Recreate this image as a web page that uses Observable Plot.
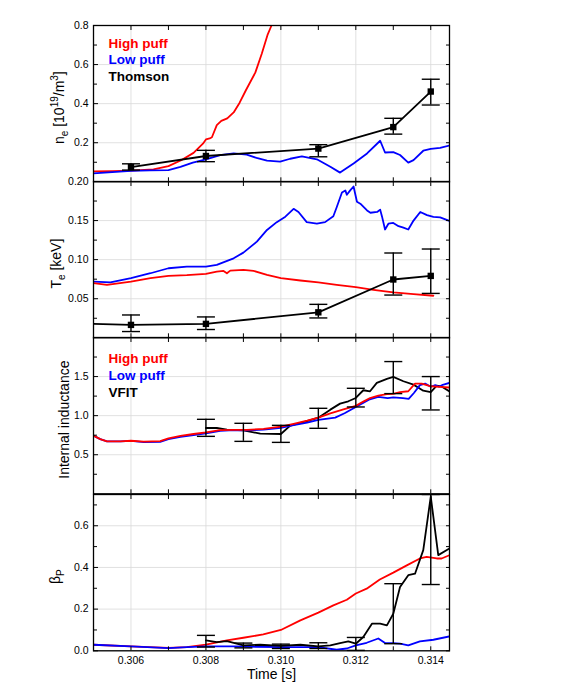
<!DOCTYPE html>
<html>
<head>
<meta charset="utf-8">
<script src="https://cdn.jsdelivr.net/npm/d3@7"></script>
<script src="https://cdn.jsdelivr.net/npm/@observablehq/plot@0.6"></script>
<style>
  html, body { margin: 0; padding: 0; background: white; }
  #chart { position: relative; width: 567px; height: 687px; overflow: hidden; }
  #chart svg { position: absolute; left: 0; }
</style>
</head>
<body>
<div id="chart"></div>
<script>
// ---------- shared x axis ----------
const xDomain = [0.305, 0.3145];
const xMajor = [0.306, 0.308, 0.310, 0.312, 0.314];
const xMinor = [0.307, 0.309, 0.311, 0.313];

// ---------- panel 1: electron density ----------
const neHighT = [0.3050, 0.3055, 0.3060, 0.3066, 0.3070, 0.30734, 0.30767, 0.30792, 0.3080, 0.3081, 0.30816, 0.30829, 0.30841, 0.30857, 0.30874, 0.3089, 0.30907, 0.30932, 0.30949, 0.30965, 0.30975, 0.30990];
const neHigh  = [0.053, 0.055, 0.057, 0.064, 0.080, 0.110, 0.148, 0.195, 0.217, 0.222, 0.228, 0.290, 0.312, 0.325, 0.355, 0.405, 0.470, 0.560, 0.655, 0.755, 0.800, 0.880];
const neLowT = [0.3050, 0.3055, 0.3060, 0.3065, 0.3070, 0.30732, 0.30765, 0.3080, 0.30838, 0.30874, 0.30909, 0.30935, 0.30963, 0.30998, 0.31025, 0.31056, 0.31096, 0.31132, 0.31158, 0.31194, 0.3123, 0.31265, 0.31278, 0.3130, 0.31318, 0.3134, 0.31354, 0.3138, 0.3140, 0.31425, 0.3145];
const neLow  = [0.043, 0.050, 0.056, 0.058, 0.060, 0.076, 0.098, 0.115, 0.136, 0.145, 0.139, 0.122, 0.108, 0.103, 0.118, 0.130, 0.115, 0.077, 0.047, 0.094, 0.145, 0.210, 0.150, 0.152, 0.137, 0.098, 0.111, 0.159, 0.168, 0.174, 0.186];
const thomsonT  = [0.306, 0.308, 0.311, 0.313, 0.314];
const neThomson = [0.075, 0.132, 0.170, 0.280, 0.462];
const neThomLo  = [0.060, 0.103, 0.128, 0.244, 0.393];
const neThomHi  = [0.092, 0.161, 0.190, 0.325, 0.525];

// ---------- panel 2: electron temperature ----------
const teLowT = [0.3050, 0.30545, 0.3060, 0.30652, 0.3070, 0.30749, 0.3080, 0.30829, 0.30874, 0.3090, 0.30936, 0.30963, 0.30989, 0.31012, 0.31034, 0.31047, 0.31069, 0.31096, 0.31118, 0.3114, 0.31149, 0.31163, 0.31172, 0.31176, 0.31185, 0.31194, 0.31203, 0.31212, 0.3123, 0.31239, 0.31257, 0.31265, 0.3127, 0.31278, 0.31287, 0.3130, 0.31314, 0.31327, 0.3134, 0.31354, 0.31372, 0.3139, 0.31407, 0.31425, 0.3145];
const teLow  = [0.072, 0.071, 0.0763, 0.0826, 0.089, 0.0911, 0.0911, 0.0932, 0.1017, 0.109, 0.123, 0.138, 0.148, 0.155, 0.165, 0.161, 0.148, 0.146, 0.148, 0.1555, 0.167, 0.186, 0.1886, 0.183, 0.1886, 0.1936, 0.174, 0.1716, 0.163, 0.160, 0.161, 0.164, 0.155, 0.1386, 0.146, 0.147, 0.1428, 0.141, 0.1386, 0.150, 0.161, 0.157, 0.1547, 0.154, 0.1496];
const teHighT = [0.3050, 0.30536, 0.3060, 0.30652, 0.3070, 0.30749, 0.3080, 0.30829, 0.30847, 0.30856, 0.30865, 0.3090, 0.30927, 0.30963, 0.3100, 0.31052, 0.3110, 0.31149, 0.3120, 0.31247, 0.3130, 0.31354, 0.31407];
const teHigh  = [0.070, 0.0678, 0.072, 0.0763, 0.0792, 0.0801, 0.0818, 0.0847, 0.0856, 0.0826, 0.086, 0.0868, 0.0856, 0.0805, 0.0763, 0.0733, 0.0708, 0.0678, 0.0648, 0.0614, 0.058, 0.056, 0.0538];
const teThomT  = [0.3050, 0.306, 0.308, 0.311, 0.313, 0.314];
const teThomson = [0.0178, 0.0165, 0.0178, 0.0326, 0.0746, 0.0792];
const teThomLo  = [0.008, 0.0106, 0.0254, 0.0547, 0.0568];
const teThomHi  = [0.0292, 0.0267, 0.0428, 0.1085, 0.1136];

// ---------- panel 3: internal inductance ----------
const liHighT = [0.305, 0.30518, 0.30536, 0.30572, 0.306, 0.30634, 0.30678, 0.307, 0.30732, 0.30767, 0.308, 0.30838, 0.30874, 0.30909, 0.30954, 0.310, 0.31034, 0.3107, 0.311, 0.31132, 0.31167, 0.312, 0.3122, 0.31238, 0.3126, 0.31283, 0.313, 0.31318, 0.3134, 0.31358, 0.31376, 0.314, 0.31425, 0.3145];
const liHigh  = [0.744, 0.70, 0.671, 0.671, 0.679, 0.667, 0.675, 0.71, 0.74, 0.765, 0.786, 0.815, 0.818, 0.818, 0.83, 0.86, 0.895, 0.935, 0.975, 1.03, 1.08, 1.125, 1.18, 1.225, 1.255, 1.275, 1.278, 1.30, 1.312, 1.41, 1.41, 1.376, 1.367, 1.36];
const liLowT = [0.305, 0.30518, 0.30536, 0.30572, 0.306, 0.30634, 0.30678, 0.307, 0.30732, 0.30767, 0.308, 0.30838, 0.30874, 0.30909, 0.30954, 0.310, 0.31034, 0.3107, 0.311, 0.31145, 0.3117, 0.312, 0.31235, 0.3126, 0.31285, 0.313, 0.31326, 0.31341, 0.31355, 0.31371, 0.31385, 0.314, 0.31412, 0.31422, 0.31432, 0.3145];
const liLow  = [0.744, 0.70, 0.671, 0.671, 0.676, 0.662, 0.665, 0.70, 0.728, 0.752, 0.772, 0.805, 0.815, 0.812, 0.82, 0.845, 0.878, 0.91, 0.945, 0.975, 1.03, 1.11, 1.205, 1.24, 1.225, 1.235, 1.225, 1.215, 1.29, 1.39, 1.41, 1.37, 1.39, 1.37, 1.395, 1.42];
const vfitT = [0.308, 0.30829, 0.30856, 0.309, 0.30945, 0.310, 0.31025, 0.3107, 0.311, 0.31132, 0.31158, 0.3118, 0.312, 0.3122, 0.31238, 0.31256, 0.31283, 0.313, 0.31327, 0.31354, 0.3138, 0.314, 0.31416, 0.3143, 0.3145];
const liVfit = [0.842, 0.842, 0.82, 0.812, 0.77, 0.765, 0.872, 0.93, 0.974, 1.077, 1.154, 1.184, 1.226, 1.325, 1.312, 1.419, 1.47, 1.496, 1.44, 1.397, 1.32, 1.30, 1.385, 1.37, 1.31];
const vfitErrT = [0.308, 0.309, 0.310, 0.311, 0.312, 0.313, 0.314];
const liErrLo  = [0.735, 0.671, 0.658, 0.838, 1.111, 1.282, 1.073];
const liErrHi  = [0.953, 0.902, 0.876, 1.094, 1.350, 1.692, 1.500];

// ---------- panel 4: poloidal beta ----------
const bpHighT = [0.305, 0.306, 0.307, 0.30749, 0.308, 0.30856, 0.309, 0.30953, 0.310, 0.31052, 0.311, 0.3114, 0.31176, 0.312, 0.31229, 0.31264, 0.313, 0.31336, 0.31371, 0.31389, 0.31416, 0.31429, 0.3145];
const bpHigh  = [0.029, 0.021, 0.0144, 0.0176, 0.030, 0.050, 0.0626, 0.0786, 0.100, 0.146, 0.183, 0.218, 0.245, 0.275, 0.298, 0.342, 0.375, 0.410, 0.443, 0.451, 0.443, 0.443, 0.459];
const bpLowT = [0.305, 0.306, 0.307, 0.3075, 0.308, 0.3087, 0.310, 0.311, 0.31149, 0.31176, 0.312, 0.31229, 0.3126, 0.31278, 0.313, 0.31318, 0.3134, 0.31371, 0.31407, 0.3145];
const bpLow  = [0.029, 0.021, 0.0128, 0.0176, 0.021, 0.021, 0.0176, 0.0176, 0.005, 0.011, 0.0257, 0.0385, 0.059, 0.037, 0.037, 0.034, 0.026, 0.045, 0.053, 0.069];
const bpVfitT = [0.308, 0.30829, 0.30856, 0.30882, 0.309, 0.30945, 0.310, 0.31052, 0.311, 0.31132, 0.31158, 0.3118, 0.312, 0.3122, 0.31243, 0.31265, 0.31283, 0.313, 0.31318, 0.3134, 0.31358, 0.3138, 0.314, 0.3142, 0.3145];
const bpVfit  = [0.05, 0.042, 0.0465, 0.034, 0.0257, 0.029, 0.024, 0.029, 0.021, 0.0257, 0.037, 0.045, 0.034, 0.066, 0.13, 0.13, 0.122, 0.178, 0.306, 0.363, 0.37, 0.483, 0.74, 0.459, 0.491];
const bpErrLo = [0.018, 0.014, 0.011, 0.011, 0.002, 0.034, 0.318];
const bpErrHi = [0.074, 0.037, 0.032, 0.0385, 0.064, 0.322, 0.750];

// ---------- legend / titles ----------
const legendDensity = ["High puff", "Low puff", "Thomson"];
const legendInductance = ["High puff", "Low puff", "VFIT"];
const legendColors = ["#ff0000", "#0000ff", "#000000"];

// ---------- helpers ----------
const RED = "#ff0000", BLUE = "#0000ff", BLACK = "#000000";
const FONT = "'Liberation Sans', Arial, sans-serif";
const FONT_NARROW = "'Liberation Sans Narrow', 'Arial Narrow', 'Liberation Sans', Arial, sans-serif";
const rows = (ts, vs) => ts.map((t, i) => ({t, v: vs[i]}));
const errRows = (ts, lo, hi) => ts.map((t, i) => ({t, lo: lo[i], hi: hi[i]}));
const capSymbol = {draw(ctx) { ctx.moveTo(-9, 0); ctx.lineTo(9, 0); }};

const W = 567, ML = 93, MR = 118, FH = 156.3;
const frameTops = [24.7, 181.0, 337.3, 493.6];

function lineMark(ts, vs, color) {
  return Plot.line(rows(ts, vs), {x: "t", y: "v", stroke: color, strokeWidth: 1.8, clip: true});
}
function errorBars(ts, lo, hi) {
  const d = errRows(ts, lo, hi);
  return [
    Plot.ruleX(d, {x: "t", y1: "lo", y2: "hi", stroke: BLACK, strokeWidth: 1.4}),
    Plot.dot(d, {x: "t", y: "lo", symbol: capSymbol, stroke: BLACK, strokeWidth: 1.4, fill: "none", r: 5}),
    Plot.dot(d, {x: "t", y: "hi", symbol: capSymbol, stroke: BLACK, strokeWidth: 1.4, fill: "none", r: 5})
  ];
}
function legendMarks(labels, colors, top, step) {
  return labels.map((lab, i) => Plot.text([lab], {
    text: d => d, frameAnchor: "top-left", dx: 15, dy: top + i * step,
    textAnchor: "start", lineAnchor: "middle", fill: colors[i],
    fontWeight: "bold", fontSize: 13.5, fontFamily: FONT
  }));
}

function panel(cfg) {
  const mt = 20, mb = cfg.bottom ? 45 : 20;
  const gridStyle = {stroke: "#d9d9d9", strokeOpacity: 1, strokeWidth: 0.8};
  const marks = [
    Plot.gridX({ticks: xMajor, ...gridStyle}),
    Plot.gridY({ticks: cfg.yMajor, ...gridStyle}),
    ...cfg.marks,
    Plot.axisX({anchor: "bottom", ticks: xMajor, tickSize: -4, tickPadding: 10,
      tickFormat: cfg.bottom ? d3.format(".3f") : () => "", label: null,
      fontSize: 10.5, fontFamily: FONT_NARROW}),
    Plot.axisX({anchor: "bottom", ticks: xMinor, tickSize: -4, tickFormat: () => "", label: null}),
    Plot.axisX({anchor: "top", ticks: [...xMajor, ...xMinor], tickSize: -4, tickFormat: () => "", label: null}),
    Plot.axisY({anchor: "left", ticks: cfg.yMajor, tickSize: -5, tickPadding: 10,
      tickFormat: cfg.yFmt, label: null, fontSize: 10.5, fontFamily: FONT_NARROW}),
    Plot.axisY({anchor: "left", ticks: cfg.yMinor, tickSize: -4, tickFormat: () => "", label: null}),
    Plot.axisY({anchor: "right", ticks: [...cfg.yMajor, ...cfg.yMinor], tickSize: -4, tickFormat: () => "", label: null}),
    Plot.text([cfg.title], {text: d => d, frameAnchor: "left", dx: cfg.titleX - ML, dy: 4,
      rotate: -90, textAnchor: "middle", fontSize: 14, fontFamily: FONT, fill: BLACK}),
    ...(cfg.legend || []),
    Plot.frame({stroke: BLACK, strokeWidth: 1.3})
  ];
  if (cfg.bottom) {
    marks.push(Plot.text(["Time [s]"], {text: d => d, frameAnchor: "bottom", dy: 24,
      lineAnchor: "middle", fontSize: 14, fontFamily: FONT_NARROW, fill: BLACK}));
  }
  const svg = Plot.plot({
    width: W, height: mt + FH + mb,
    marginLeft: ML, marginRight: MR, marginTop: mt, marginBottom: mb,
    x: {domain: xDomain},
    y: {domain: cfg.yDomain},
    style: {background: "transparent", overflow: "visible", color: "black", fontFamily: FONT},
    marks
  });
  svg.style.top = (cfg.top - mt) + "px";
  // rich text (sub/superscripts) for axis titles
  d3.select(svg).selectAll("text").filter(function() { return /<su[bp]>/.test(this.textContent); })
    .each(function() {
      const s = this.textContent;
      const parts = s.split(/(<sub>.*?<\/sub>|<sup>.*?<\/sup>)/).filter(p => p.length);
      const el = d3.select(this);
      el.text("");
      let cur = 0;
      for (const p of parts) {
        let m, txt, target, size = null;
        if ((m = p.match(/^<sub>(.*)<\/sub>$/))) { txt = m[1]; target = 4; size = "10px"; }
        else if ((m = p.match(/^<sup>(.*)<\/sup>$/))) { txt = m[1]; target = -6; size = "10px"; }
        else { txt = p; target = 0; }
        const ts = el.append("tspan").attr("dy", target - cur).text(txt);
        if (size) ts.attr("font-size", size);
        cur = target;
      }
    });
  return svg;
}

const chart = document.getElementById("chart");

chart.appendChild(panel({
  top: frameTops[0], yDomain: [0, 0.8],
  yMajor: [0.2, 0.4, 0.6, 0.8], yMinor: [0.1, 0.3, 0.5, 0.7], yFmt: d3.format(".1f"),
  title: "n<sub>e</sub> [10<sup>19</sup>/m<sup>3</sup>]", titleX: 59,
  marks: [
    lineMark(neHighT, neHigh, RED),
    lineMark(neLowT, neLow, BLUE),
    lineMark(thomsonT, neThomson, BLACK),
    ...errorBars(thomsonT, neThomLo, neThomHi),
    Plot.dot(rows(thomsonT, neThomson), {x: "t", y: "v", symbol: "square", r: 3.6, fill: BLACK})
  ],
  legend: legendMarks(legendDensity, legendColors, 18, 16.5)
}));

chart.appendChild(panel({
  top: frameTops[1], yDomain: [0, 0.2],
  yMajor: [0.05, 0.10, 0.15, 0.20], yMinor: [0.025, 0.075, 0.125, 0.175], yFmt: d3.format(".2f"),
  title: "T<sub>e</sub> [keV]", titleX: 56,
  marks: [
    lineMark(teLowT, teLow, BLUE),
    lineMark(teHighT, teHigh, RED),
    lineMark(teThomT, teThomson, BLACK),
    ...errorBars(thomsonT, teThomLo, teThomHi),
    Plot.dot(rows(thomsonT, teThomson.slice(1)), {x: "t", y: "v", symbol: "square", r: 3.6, fill: BLACK})
  ]
}));

chart.appendChild(panel({
  top: frameTops[2], yDomain: [0, 2],
  yMajor: [0.5, 1.0, 1.5], yMinor: [0.25, 0.75, 1.25, 1.75], yFmt: d3.format(".1f"),
  title: "Internal inductance", titleX: 64,
  marks: [
    lineMark(vfitT, liVfit, BLACK),
    lineMark(liLowT, liLow, BLUE),
    lineMark(liHighT, liHigh, RED),
    ...errorBars(vfitErrT, liErrLo, liErrHi)
  ],
  legend: legendMarks(legendInductance, legendColors, 21.5, 17)
}));

chart.appendChild(panel({
  top: frameTops[3], yDomain: [0, 0.75], bottom: true,
  yMajor: [0, 0.2, 0.4, 0.6], yMinor: [0.1, 0.3, 0.5, 0.7], yFmt: d3.format(".1f"),
  title: "β<sub>P</sub>", titleX: 55,
  marks: [
    lineMark(bpHighT, bpHigh, RED),
    lineMark(bpLowT, bpLow, BLUE),
    lineMark(bpVfitT, bpVfit, BLACK),
    ...errorBars(vfitErrT, bpErrLo, bpErrHi)
  ]
}));
</script>
</body>
</html>
